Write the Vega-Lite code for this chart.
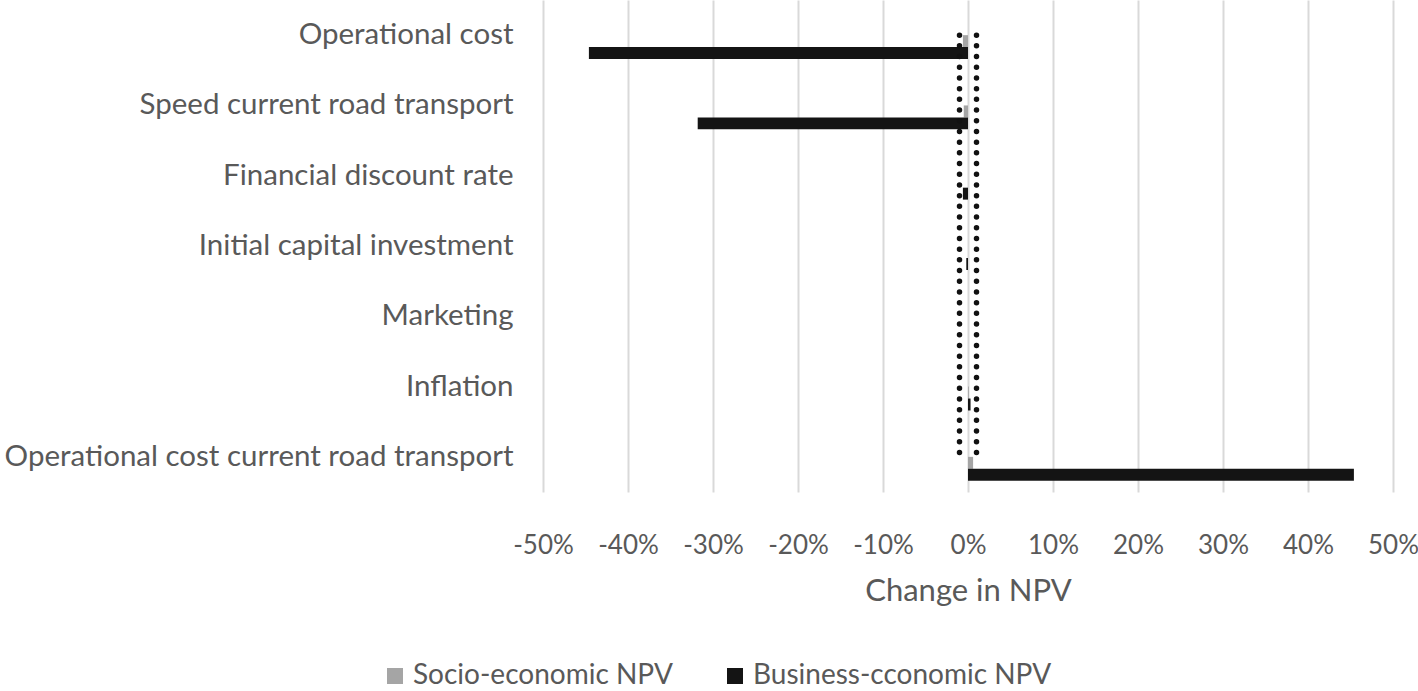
{
  "$schema": "https://vega.github.io/schema/vega-lite/v6.json",
  "autosize": "none",
  "width": 850,
  "height": 492,
  "padding": {"left": 543, "top": 0, "right": 25, "bottom": 199},
  "background": "white",
  "config": {
    "font": "Lato",
    "view": {"stroke": null}
  },
  "datasets": {
    "bars": [
      {"parameter": "Operational cost", "series": "Socio-economic NPV", "change": -0.006},
      {"parameter": "Operational cost", "series": "Business-cconomic NPV", "change": -0.446},
      {"parameter": "Speed current road transport", "series": "Socio-economic NPV", "change": -0.005},
      {"parameter": "Speed current road transport", "series": "Business-cconomic NPV", "change": -0.318},
      {"parameter": "Financial discount rate", "series": "Socio-economic NPV", "change": 0},
      {"parameter": "Financial discount rate", "series": "Business-cconomic NPV", "change": -0.006},
      {"parameter": "Initial capital investment", "series": "Socio-economic NPV", "change": 0},
      {"parameter": "Initial capital investment", "series": "Business-cconomic NPV", "change": -0.002},
      {"parameter": "Marketing", "series": "Socio-economic NPV", "change": 0},
      {"parameter": "Marketing", "series": "Business-cconomic NPV", "change": 0},
      {"parameter": "Inflation", "series": "Socio-economic NPV", "change": 0.001},
      {"parameter": "Inflation", "series": "Business-cconomic NPV", "change": 0.003},
      {"parameter": "Operational cost current road transport", "series": "Socio-economic NPV", "change": 0.006},
      {"parameter": "Operational cost current road transport", "series": "Business-cconomic NPV", "change": 0.454}
    ],
    "limits": [
      {"limit": -0.01, "from": "Operational cost", "to": "Operational cost current road transport"},
      {"limit": 0.01, "from": "Operational cost", "to": "Operational cost current road transport"}
    ]
  },
  "layer": [
    {
      "data": {"name": "bars"},
      "mark": {"type": "bar"},
      "encoding": {
        "y": {
          "field": "parameter",
          "type": "nominal",
          "sort": null,
          "scale": {
            "domain": ["Operational cost", "Speed current road transport", "Financial discount rate", "Initial capital investment", "Marketing", "Inflation", "Operational cost current road transport"],
            "paddingInner": 0.32,
            "paddingOuter": 0.16
          },
          "axis": {
            "title": null,
            "domain": false,
            "ticks": false,
            "labelPadding": 30,
            "labelFontSize": 29.5,
            "labelColor": "#595959",
            "labelLimit": 700,
            "grid": false
          }
        },
        "yOffset": {
          "field": "series",
          "type": "nominal",
          "scale": {"domain": ["h1", "h2", "Socio-economic NPV", "Business-cconomic NPV"], "paddingInner": 0, "paddingOuter": 0}
        },
        "x": {
          "field": "change",
          "type": "quantitative",
          "scale": {"domain": [-0.5, 0.5], "nice": false, "zero": false},
          "axis": {
            "values": [-0.5, -0.4, -0.3, -0.2, -0.1, 0, 0.1, 0.2, 0.3, 0.4, 0.5],
            "labelExpr": "replace(format(datum.value, '.0%'), '\u2212', '-')",
            "labelOverlap": false,
            "labelFlush": false,
            "title": "Change in NPV",
            "titleFontSize": 31,
            "titleFontWeight": "normal",
            "titleColor": "#595959",
            "titlePadding": 18,
            "labelFontSize": 26,
            "labelColor": "#595959",
            "labelPadding": 40,
            "domain": false,
            "ticks": false,
            "grid": true,
            "gridColor": "#d9d9d9",
            "gridWidth": 2
          }
        },
        "color": {
          "field": "series",
          "type": "nominal",
          "scale": {"domain": ["Socio-economic NPV", "Business-cconomic NPV"], "range": ["#a5a5a5", "#141414"]},
          "legend": {
            "title": null,
            "orient": "none",
            "direction": "horizontal",
            "legendX": -162,
            "legendY": 662,
            "symbolType": "square",
            "symbolSize": 256,
            "symbolStrokeWidth": 0,
            "labelFontSize": 28,
            "labelColor": "#595959",
            "labelLimit": 500,
            "columnPadding": 48,
            "symbolOffset": 0,
            "labelOffset": 4
          }
        }
      }
    },
    {
      "data": {"name": "limits"},
      "mark": {"type": "rule", "color": "#111111", "strokeWidth": 5.5, "strokeDash": [0, 10.7], "strokeCap": "round"},
      "encoding": {
        "x": {"field": "limit", "type": "quantitative"},
        "y": {"field": "from", "type": "nominal"},
        "y2": {"field": "to"}
      }
    }
  ]
}
